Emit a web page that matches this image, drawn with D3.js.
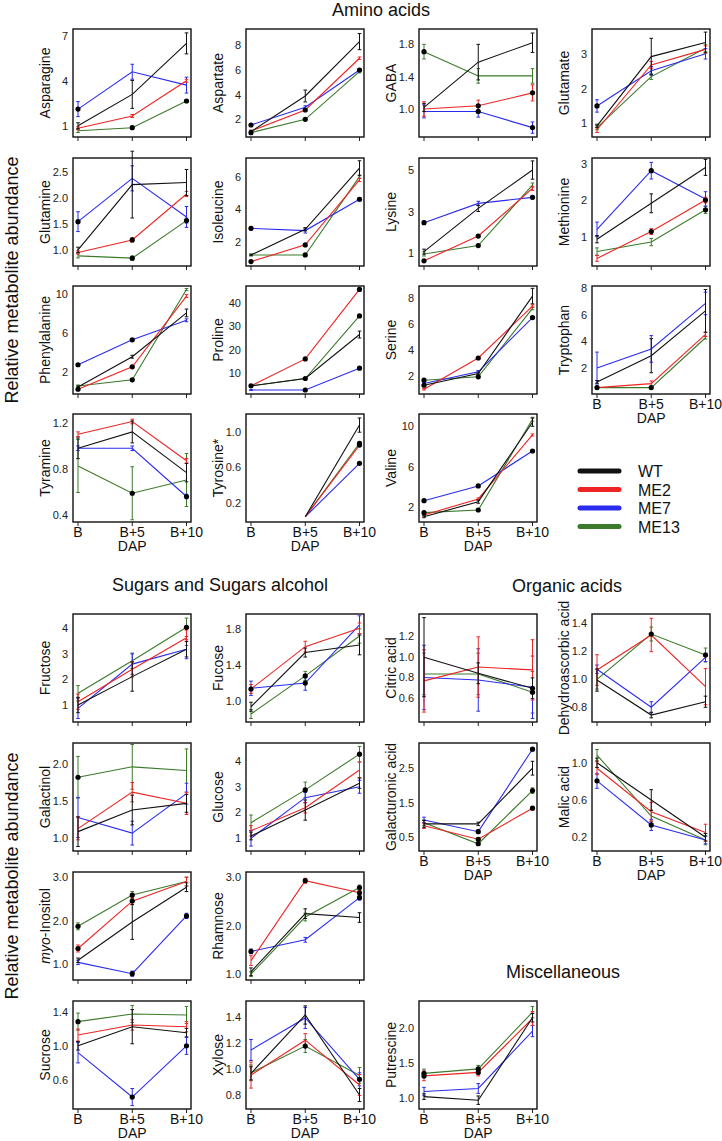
<!DOCTYPE html>
<html><head><meta charset="utf-8">
<script src="https://cdn.jsdelivr.net/npm/d3@7"></script>
<style>
body{margin:0;background:#fff;}
svg{display:block;font-family:"Liberation Sans",Arial,sans-serif;}
</style></head>
<body><svg id="c" width="722" height="1141"></svg>
<script>
// ---------------- DATA ----------------
const categories = ["B", "B+5", "B+10"];
const seriesNames = ["WT", "ME2", "ME7", "ME13"];
const seriesColors = ["#111111", "#ee2424", "#2b2bf0", "#3b7a2a"];

// mean / err: one row per series (WT, ME2, ME7, ME13), one value per category
// sig: [seriesIndex, categoryIndex] points marked with a black dot
const aminoAcids = [
  {name:"Asparagine", ticks:["1","4","7"], domain:[0.25,7.45],
   mean:[[1.0,3.09,6.49],[0.83,1.65,4.0],[2.11,4.6,3.71],[0.67,0.87,2.65]],
   err:[[0.2,0.93,0.7],[0.1,0.1,0.1],[0.5,0.5,0.53],[0.12,0.1,0.1]],
   sig:[[2,0],[3,1],[3,2]]},
  {name:"Aspartate", ticks:["2","4","6","8"], domain:[0.57,9.29],
   mean:[[1.0,3.88,8.27],[1.05,2.75,6.93],[1.54,2.97,5.98],[0.92,2.0,5.85]],
   err:[[0.1,0.48,0.65],[0.08,0.1,0.1],[0.08,0.12,0.1],[0.06,0.08,0.1]],
   sig:[[2,0],[3,0],[1,1],[3,1],[2,2]]},
  {name:"GABA", ticks:["1.0","1.4","1.8"], domain:[0.654,1.99],
   mean:[[1.02,1.58,1.82],[1.0,1.04,1.2],[0.97,0.97,0.77],[1.71,1.41,1.41]],
   err:[[0.05,0.22,0.12],[0.09,0.07,0.1],[0.08,0.07,0.07],[0.09,0.09,0.09]],
   sig:[[1,1],[1,2],[2,1],[2,2],[3,0]]},
  {name:"Glutamate", ticks:["1","2","3"], domain:[0.60,3.73],
   mean:[[0.92,2.93,3.34],[0.81,2.69,3.14],[1.5,2.52,3.01],[0.87,2.35,3.17]],
   err:[[0.05,0.53,0.3],[0.08,0.1,0.1],[0.18,0.12,0.15],[0.06,0.08,0.1]],
   sig:[[2,0]]},
  {name:"Glutamine", ticks:["1.0","1.5","2.0","2.5"], domain:[0.69,2.76],
   mean:[[1.0,2.25,2.29],[0.95,1.19,2.07],[1.54,2.37,1.63],[0.885,0.84,1.56]],
   err:[[0.05,0.64,0.25],[0.03,0.04,0.05],[0.19,0.24,0.2],[0.04,0.04,0.05]],
   sig:[[2,0],[1,1],[3,1],[3,2]]},
  {name:"Isoleucine", ticks:["2","4","6"], domain:[0.5,7.15],
   mean:[[1.18,2.76,6.52],[0.77,1.8,5.8],[2.82,2.68,4.61],[1.18,1.18,6.0]],
   err:[[0.05,0.1,0.46],[0.05,0.05,0.1],[0.1,0.15,0.1],[0.05,0.05,0.1]],
   sig:[[1,0],[1,1],[2,0],[2,2],[3,1]]},
  {name:"Lysine", ticks:["1","3","5"], domain:[0.39,5.58],
   mean:[[1.08,3.16,5.0],[0.64,1.83,4.12],[2.47,3.4,3.69],[0.97,1.37,4.28]],
   err:[[0.12,0.15,0.44],[0.05,0.05,0.1],[0.08,0.1,0.08],[0.1,0.05,0.1]],
   sig:[[1,0],[1,1],[2,0],[2,2],[3,1]]},
  {name:"Methionine", ticks:["1","2","3"], domain:[0.19,3.17],
   mean:[[0.93,1.92,2.91],[0.4,1.14,2.01],[1.2,2.82,2.04],[0.59,0.85,1.74]],
   err:[[0.1,0.26,0.22],[0.08,0.08,0.08],[0.2,0.23,0.2],[0.1,0.1,0.1]],
   sig:[[1,1],[1,2],[2,1],[3,2]]},
  {name:"Phenylalanine", ticks:["2","6","10"], domain:[-0.29,10.86],
   mean:[[0.44,3.56,8.08],[0.2,2.52,9.82],[2.73,5.3,7.32],[0.54,1.17,10.5]],
   err:[[0.1,0.15,0.4],[0.1,0.1,0.15],[0.1,0.1,0.15],[0.1,0.1,0.1]],
   sig:[[1,0],[1,1],[2,0],[2,1],[3,1]]},
  {name:"Proline", ticks:["10","20","30","40"], domain:[0.66,47.6],
   mean:[[4.2,7.4,26.5],[4.2,15.9,46.1],[2.4,2.4,11.9],[4.2,7.4,34.6]],
   err:[[0.3,0.3,1.5],[0.3,0.4,0.5],[0.2,0.2,0.4],[0.3,0.3,0.5]],
   sig:[[1,0],[1,1],[1,2],[2,1],[2,2],[3,1],[3,2]]},
  {name:"Serine", ticks:["2","4","6","8"], domain:[0.59,8.96],
   mean:[[1.27,2.18,8.18],[0.96,3.38,7.4],[1.4,2.31,6.51],[1.66,1.92,7.22]],
   err:[[0.08,0.1,0.6],[0.06,0.1,0.1],[0.08,0.1,0.1],[0.08,0.08,0.1]],
   sig:[[0,0],[1,1],[2,2],[3,0],[3,1]]},
  {name:"Tryptophan", ticks:["2","4","6","8"], domain:[0.05,8.17],
   mean:[[0.96,2.93,6.3],[0.53,0.83,4.53],[2.0,3.44,6.86],[0.53,0.53,4.28]],
   err:[[0.1,1.28,1.6],[0.1,0.2,0.15],[1.2,1.0,0.85],[0.1,0.1,0.1]],
   sig:[[3,0],[3,1]]},
  {name:"Tyramine", ticks:["0.4","0.8","1.2"], domain:[0.339,1.275],
   mean:[[0.978,1.12,0.767],[1.1,1.21,0.87],[0.978,0.978,0.56],[0.825,0.588,0.703]],
   err:[[0.09,0.095,0.08],[0.02,0.02,0.02],[0.02,0.02,0.02],[0.23,0.23,0.23]],
   sig:[[2,2],[3,1]]},
  {name:"Tyrosine*", ticks:["0.2","0.6","1.0"], domain:[-0.017,1.2],
   mean:[[null,0.042,1.075],[null,0.042,0.85],[null,0.042,0.644],[null,0.042,0.87]],
   err:[[0,0,0.08],[0,0,0.01],[0,0,0.01],[0,0,0.01]],
   sig:[[1,2],[2,2],[3,2]]},
  {name:"Valine", ticks:["2","6","10"], domain:[0.55,11.18],
   mean:[[1.07,2.55,10.37],[1.24,2.82,9.12],[2.65,4.1,7.54],[1.47,1.73,10.66]],
   err:[[0.1,0.15,0.4],[0.1,0.1,0.1],[0.1,0.1,0.1],[0.1,0.1,0.2]],
   sig:[[2,0],[2,1],[2,2],[3,0],[3,1]]}
];

const sugars = [
  {name:"Fructose", ticks:["1","2","3","4"], domain:[0.335,4.56],
   mean:[[1.0,2.11,3.18],[1.13,2.4,3.63],[0.87,2.6,3.18],[1.46,2.73,4.04]],
   err:[[0.3,0.57,0.3],[0.3,0.3,0.3],[0.4,0.4,0.37],[0.3,0.3,0.36]],
   sig:[[3,2]]},
  {name:"Fucose", ticks:["1.0","1.4","1.8"], domain:[0.766,1.97],
   mean:[[0.936,1.54,1.625],[1.134,1.606,1.81],[1.142,1.2,1.85],[0.855,1.28,1.725]],
   err:[[0.05,0.05,0.11],[0.05,0.06,0.06],[0.08,0.08,0.1],[0.05,0.05,0.08]],
   sig:[[1,0],[2,1],[3,1]]},
  {name:"Galactinol", ticks:["1.0","1.5","2.0"], domain:[0.83,2.28],
   mean:[[1.09,1.38,1.47],[1.13,1.62,1.47],[1.28,1.07,1.6],[1.82,1.96,1.91]],
   err:[[0.2,0.2,0.12],[0.15,0.13,0.15],[0.27,0.16,0.14],[0.28,0.3,0.29]],
   sig:[[3,0]]},
  {name:"Glucose", ticks:["1","2","3","4"], domain:[0.51,4.68],
   mean:[[1.09,2.09,3.13],[1.29,2.18,3.64],[1.0,2.57,2.99],[1.6,2.87,4.25]],
   err:[[0.15,0.39,0.2],[0.2,0.2,0.3],[0.3,0.2,0.25],[0.3,0.3,0.3]],
   sig:[[3,1],[3,2]]},
  {name:"myo-Inositol", ticks:["1.0","2.0","3.0"], domain:[0.635,3.12],
   mean:[[1.09,1.97,2.77],[1.36,2.45,2.9],[1.04,0.78,2.11],[1.87,2.59,2.9]],
   err:[[0.05,0.4,0.1],[0.08,0.08,0.1],[0.05,0.06,0.06],[0.08,0.08,0.1]],
   sig:[[1,0],[1,1],[2,1],[2,2],[3,0],[3,1]]},
  {name:"Rhamnose", ticks:["1.0","2.0","3.0"], domain:[0.88,3.11],
   mean:[[1.05,2.25,2.17],[1.28,2.93,2.68],[1.47,1.71,2.58],[1.0,2.18,2.79]],
   err:[[0.08,0.1,0.1],[0.1,0.05,0.05],[0.05,0.05,0.05],[0.05,0.08,0.05]],
   sig:[[1,1],[1,2],[2,0],[2,2],[3,2]]},
  {name:"Sucrose", ticks:["0.6","1.0","1.4"], domain:[0.26,1.525],
   mean:[[1.0,1.224,1.154],[1.127,1.244,1.224],[0.92,0.4,1.0],[1.283,1.373,1.361]],
   err:[[0.05,0.2,0.05],[0.07,0.06,0.06],[0.12,0.1,0.1],[0.1,0.1,0.1]],
   sig:[[2,1],[2,2],[3,0]]},
  {name:"Xylose", ticks:["0.8","1.0","1.2","1.4"], domain:[0.693,1.52],
   mean:[[0.966,1.413,0.8],[0.953,1.22,0.877],[1.145,1.39,0.92],[0.97,1.175,0.95]],
   err:[[0.05,0.07,0.05],[0.1,0.05,0.08],[0.08,0.08,0.05],[0.06,0.05,0.06]],
   sig:[[3,1],[2,2]]}
];

const organicAcids = [
  {name:"Citric acid", ticks:["0.6","0.8","1.0","1.2"], domain:[0.372,1.41],
   mean:[[0.995,0.84,0.696],[0.767,0.9,0.873],[0.8,0.776,0.706],[0.834,0.834,0.658]],
   err:[[0.38,0.1,0.1],[0.3,0.29,0.29],[0.31,0.3,0.3],[0.2,0.2,0.2]],
   sig:[[0,2],[3,2]]},
  {name:"Dehydroascorbic acid", ticks:["0.8","1.0","1.2","1.4"], domain:[0.69,1.467],
   mean:[[0.992,0.74,0.836],[1.064,1.316,0.944],[1.07,0.796,1.155],[0.997,1.323,1.172]],
   err:[[0.08,0.02,0.04],[0.11,0.12,0.13],[0.03,0.04,0.03],[0.07,0.05,0.05]],
   sig:[[3,1],[3,2]]},
  {name:"Galacturonic acid", ticks:["0.5","1.5","2.5"], domain:[0.10,3.23],
   mean:[[0.886,0.886,2.5],[0.83,0.44,1.34],[1.0,0.66,3.05],[0.92,0.31,1.85]],
   err:[[0.1,0.05,0.2],[0.08,0.05,0.05],[0.08,0.05,0.05],[0.08,0.05,0.08]],
   sig:[[1,1],[1,2],[2,1],[2,2],[3,1],[3,2]]},
  {name:"Malic acid", ticks:["0.2","0.6","1.0"], domain:[0.053,1.21],
   mean:[[0.998,0.6,0.2],[0.94,0.474,0.25],[0.805,0.332,0.17],[1.08,0.428,0.17]],
   err:[[0.05,0.11,0.04],[0.07,0.1,0.09],[0.08,0.06,0.04],[0.06,0.06,0.05]],
   sig:[[2,0],[2,1]]}
];

const miscellaneous = [
  {name:"Putrescine", ticks:["1.0","1.5","2.0"], domain:[0.837,2.38],
   mean:[[1.014,0.963,2.14],[1.31,1.36,2.13],[1.086,1.13,1.95],[1.346,1.41,2.22]],
   err:[[0.04,0.06,0.06],[0.07,0.05,0.1],[0.06,0.07,0.08],[0.06,0.05,0.08]],
   sig:[[1,0],[1,1],[3,0],[3,1]]}
];

const sectionTitles = ["Amino acids", "Sugars and Sugars alcohol", "Organic acids", "Miscellaneous"];
const axisTitle = "Relative metabolite abundance";
const xAxisTitle = "DAP";

// ---------------- LAYOUT ----------------
const svg = d3.select("#c");
const colX = [73, 246, 419, 592];
const topRows = [29, 158, 286, 414];
const botRows = [614, 743, 872, 1001];
const PW = 118, PH = 108;

function panel(p, left, top, showX) {
  const g = svg.append("g");
  const x = d3.scalePoint().domain(categories).range([left + 5, left + 113.5]);
  const y = d3.scaleLinear().domain(p.domain).range([top + PH, top]);

  categories.forEach(c => {
    g.append("line").attr("x1", x(c)).attr("x2", x(c))
      .attr("y1", top + PH).attr("y2", top + PH + 4)
      .attr("stroke", "#222").attr("stroke-width", 1);
  });
  p.ticks.forEach(t => {
    g.append("text").attr("x", left - 5).attr("y", y(+t) + 4)
      .attr("text-anchor", "end").attr("font-size", 11).attr("fill", "#222").text(t);
  });
  const lab = g.append("text")
    .attr("transform", `translate(${left - 23},${top + PH / 2}) rotate(-90)`)
    .attr("text-anchor", "middle").attr("font-size", 14).attr("fill", "#111");
  if (p.name.startsWith("myo-")) {
    lab.append("tspan").attr("font-style", "italic").text("myo");
    lab.append("tspan").text(p.name.slice(3));
  } else lab.text(p.name);

  const order = [3, 2, 1, 0];
  order.forEach(s => {
    const pts = p.mean[s].map((v, i) => ({c: categories[i], v, e: p.err[s][i]}));
    const line = d3.line().defined(d => d.v != null).x(d => x(d.c)).y(d => y(d.v));
    g.append("path").attr("d", line(pts)).attr("fill", "none")
      .attr("stroke", seriesColors[s]).attr("stroke-width", 1.1);
    pts.filter(d => d.v != null && d.e > 0).forEach(d => {
      const x0 = x(d.c), y1 = y(d.v - d.e), y2 = y(d.v + d.e);
      const eg = g.append("g").attr("stroke", seriesColors[s]).attr("stroke-width", 1);
      eg.append("line").attr("x1", x0).attr("x2", x0).attr("y1", y1).attr("y2", y2);
      eg.append("line").attr("x1", x0 - 1.8).attr("x2", x0 + 1.8).attr("y1", y1).attr("y2", y1);
      eg.append("line").attr("x1", x0 - 1.8).attr("x2", x0 + 1.8).attr("y1", y2).attr("y2", y2);
    });
  });
  p.sig.forEach(([s, i]) => {
    const v = p.mean[s][i];
    if (v == null) return;
    g.append("circle").attr("cx", x(categories[i])).attr("cy", y(v)).attr("r", 2.6).attr("fill", "#000");
  });
  g.append("rect").attr("x", left).attr("y", top).attr("width", PW).attr("height", PH)
    .attr("fill", "none").attr("stroke", "#111").attr("stroke-width", 1.4);

  if (showX) {
    categories.forEach(c => {
      g.append("text").attr("x", x(c)).attr("y", top + PH + 15).attr("text-anchor", "middle")
        .attr("font-size", 14).attr("fill", "#111").text(c);
    });
    g.append("text").attr("x", x(categories[1])).attr("y", top + PH + 29).attr("text-anchor", "middle")
      .attr("font-size", 14).attr("fill", "#111").text(xAxisTitle);
  }
}

aminoAcids.forEach((p, i) => {
  const r = Math.floor(i / 4), c = i % 4;
  panel(p, colX[c], topRows[r], r === 3 || (r === 2 && c === 3));
});
sugars.forEach((p, i) => {
  const r = Math.floor(i / 2), c = i % 2;
  panel(p, colX[c], botRows[r], r === 3);
});
organicAcids.forEach((p, i) => {
  const r = Math.floor(i / 2), c = 2 + i % 2;
  panel(p, colX[c], botRows[r], r === 1);
});
miscellaneous.forEach(p => panel(p, colX[2], botRows[3], true));

const titlePos = [[381, 16], [220, 591], [567, 592], [563, 978]];
sectionTitles.forEach((t, i) => {
  svg.append("text").attr("x", titlePos[i][0]).attr("y", titlePos[i][1])
    .attr("text-anchor", "middle").attr("font-size", 18).attr("fill", "#111").text(t);
});
[280, 876].forEach(cy => {
  svg.append("text").attr("transform", `translate(18,${cy}) rotate(-90)`)
    .attr("text-anchor", "middle").attr("font-size", 18).attr("fill", "#111").text(axisTitle);
});

// legend
const legY0 = 471, legStep = 18.5;
seriesNames.forEach((n, i) => {
  const ly = legY0 + i * legStep;
  svg.append("line").attr("x1", 580).attr("x2", 619).attr("y1", ly).attr("y2", ly)
    .attr("stroke", seriesColors[i]).attr("stroke-width", 5).attr("stroke-linecap", "round");
  svg.append("text").attr("x", 638).attr("y", ly + 6).attr("font-size", 16)
    .attr("fill", "#111").text(n);
});
</script></body></html>
